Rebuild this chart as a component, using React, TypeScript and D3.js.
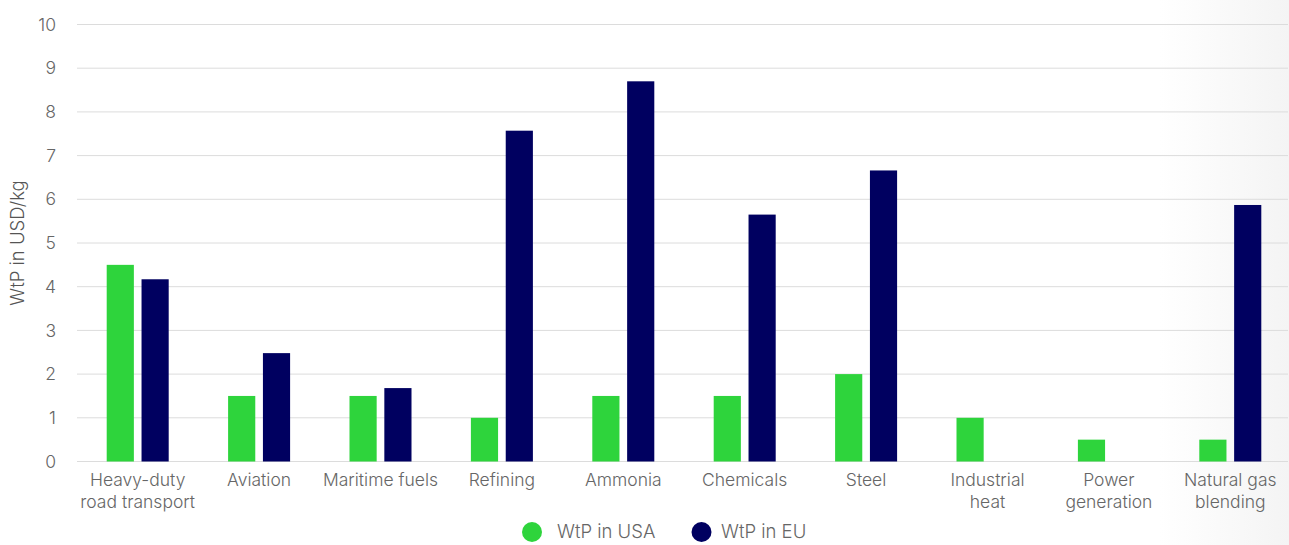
import React from "react";
import * as d3 from "d3";

const categories = [
  "Heavy-duty\nroad transport",
  "Aviation",
  "Maritime fuels",
  "Refining",
  "Ammonia",
  "Chemicals",
  "Steel",
  "Industrial\nheat",
  "Power\ngeneration",
  "Natural gas\nblending",
];
const usaValues = [4.5, 1.5, 1.5, 1.0, 1.5, 1.5, 2.0, 1.0, 0.5, 0.5];
const euValues = [4.17, 2.48, 1.68, 7.57, 8.7, 5.65, 6.66, 0, 0, 5.87];
const seriesNames = ["WtP in USA", "WtP in EU"];
const seriesColors = ["#2ED43C", "#000060"];
const yTicks = [0, 1, 2, 3, 4, 5, 6, 7, 8, 9, 10];

const W = 1289;
const H = 545;
const FONT = "Inter, 'Noto Sans', sans-serif";

export default function App() {
  const x0 = d3.scaleBand<string>().domain(categories).range([77, 1291]).padding(0);
  const groupW = 62;
  const x1 = d3.scaleBand<string>().domain(seriesNames).range([0, groupW]).paddingInner(0.22).paddingOuter(0);
  const y = d3.scaleLinear().domain([0, 10]).range([461.5, 24.5]);
  const series = [usaValues, euValues];
  const legendCircleX = [532, 701.5];
  const legendTextX = [557, 721];

  return (
    <svg width={W} height={H} style={{ position: "absolute", left: 0, top: 0 }} fontFamily={FONT}>
      <defs>
        <linearGradient id="bgGrad" x1="0" x2="1" y1="0" y2="0">
          <stop offset="0" stopColor="#ffffff" />
          <stop offset="1" stopColor="#f4f4f4" />
        </linearGradient>
      </defs>
      <rect x={0} y={0} width={W} height={H} fill="#ffffff" />
      <rect x={1160} y={0} width={W - 1160} height={H} fill="url(#bgGrad)" />
      {yTicks.map((t) => (
        <g key={t}>
          <line x1={77} x2={1288} y1={y(t)} y2={y(t)} stroke="#dcdcdc" strokeWidth={1} />
          <text x={56} y={y(t)} dy="0.35em" textAnchor="end" fontSize={17.5} fill="#666" fontWeight={300}>
            {t}
          </text>
        </g>
      ))}
      <text
        transform={`translate(24,${(y(0) + y(10)) / 2}) rotate(-90)`}
        textAnchor="middle"
        fontSize={18.5}
        fill="#555"
        fontWeight={300}
      >
        WtP in USD/kg
      </text>
      {categories.map((c, i) => {
        const gx = (x0(c) as number) + (x0.bandwidth() - groupW) / 2;
        return (
          <g key={c}>
            {series.map((vals, s) =>
              vals[i] > 0 ? (
                <rect
                  key={s}
                  x={gx + (x1(seriesNames[s]) as number)}
                  y={y(vals[i])}
                  width={x1.bandwidth()}
                  height={y(0) - y(vals[i])}
                  fill={seriesColors[s]}
                />
              ) : null
            )}
            <text
              x={(x0(c) as number) + x0.bandwidth() / 2}
              y={486}
              textAnchor="middle"
              fontSize={17.5}
              fill="#666"
              fontWeight={300}
            >
              {c.split("\n").map((line, li) => (
                <tspan key={li} x={(x0(c) as number) + x0.bandwidth() / 2} dy={li === 0 ? 0 : 22}>
                  {line}
                </tspan>
              ))}
            </text>
          </g>
        );
      })}
      {seriesNames.map((n, s) => (
        <g key={n}>
          <circle cx={legendCircleX[s]} cy={532} r={10} fill={seriesColors[s]} />
          <text x={legendTextX[s]} y={532} dy="0.35em" fontSize={18.5} fill="#666" fontWeight={300}>
            {n}
          </text>
        </g>
      ))}
    </svg>
  );
}
